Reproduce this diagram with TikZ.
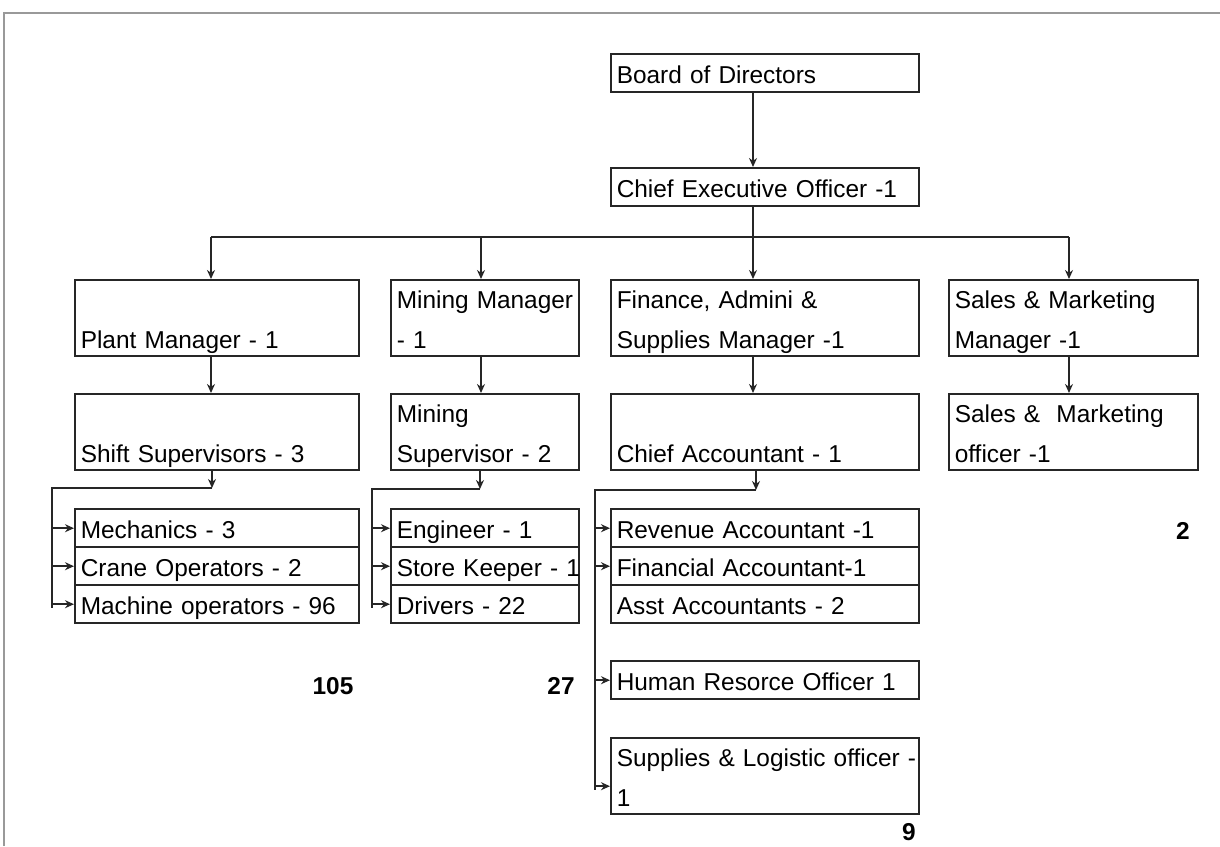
\documentclass[tikz,border=0pt]{standalone}
\usepackage{fontspec}
\setmainfont{Liberation Sans}
\usetikzlibrary{arrows.meta,calc}
\begin{document}
\begin{tikzpicture}[x=0.5pt,y=-0.5pt,
  box/.style={draw=black!85, line width=1.2pt, inner xsep=2.8pt, inner ysep=0pt, anchor=north west,
              align=left, font=\fontsize{12.2}{20}\selectfont},
  sbox/.style={box, text height=14.6pt, text depth=4.4pt},
  dbox/.style={box, text height=14pt, text depth=24pt},
  wA/.style={text width=148.4pt},
  wP/.style={text width=136.4pt},
  wM/.style={text width=88.4pt},
  wS/.style={text width=118.9pt},
  conn/.style={line width=1.2pt, draw=black!85, -{Stealth[length=4.5pt,width=4pt]}},
  wire/.style={line width=1.2pt, draw=black!85},
  frame/.style={line width=1.4pt, draw=black!40},
  num/.style={font=\fontsize{12.2}{14}\selectfont\bfseries, inner sep=0pt}
]
\useasboundingbox (0,0) rectangle (1220,846);
% page frame
\draw[frame] (4,846) -- (4,13) -- (1220,13);

% boxes
\node[sbox,wA] (bod) at (610,53) {Board of Directors};
\node[sbox,wA] (ceo) at (610,167) {Chief Executive Officer -1};

\node[dbox,wP] (pm) at (74,279) {\mbox{}\\Plant Manager - 1};
\node[dbox,wM] (mm) at (390,279) {\mbox{Mining Manager}\\- 1};
\node[dbox,wA] (fm) at (610,279) {Finance, Admini \&\\Supplies Manager -1};
\node[dbox,wS] (sm) at (948,279) {Sales \& Marketing\\Manager -1};

\node[dbox,wP] (ss) at (74,393) {\mbox{}\\Shift Supervisors - 3};
\node[dbox,wM] (ms) at (390,393) {Mining\\Supervisor - 2};
\node[dbox,wA] (ca) at (610,393) {\mbox{}\\Chief Accountant - 1};
\node[dbox,wS] (so) at (948,393) {Sales \&\ \ Marketing\\officer -1};

\node[sbox,wP] (me) at (74,508) {Mechanics - 3};
\node[sbox,wP] (co) at (74,546) {Crane Operators - 2};
\node[sbox,wP] (mo) at (74,584) {Machine operators - 96};

\node[sbox,wM] (en) at (390,508) {Engineer - 1};
\node[sbox,wM] (sk) at (390,546) {\mbox{Store Keeper - 1}};
\node[sbox,wM] (dr) at (390,584) {Drivers - 22};

\node[sbox,wA] (ra) at (610,508) {Revenue Accountant -1};
\node[sbox,wA] (fa) at (610,546) {Financial Accountant-1};
\node[sbox,wA] (aa) at (610,584) {Asst Accountants - 2};

\node[sbox,wA] (hr) at (610,660) {Human Resorce Officer 1};
\node[dbox,wA] (sl) at (610,737) {\mbox{Supplies \& Logistic officer -}\\1};

% totals
\node[num] (n105) at (333,686) {105};
\node[num] (n27) at (561,686) {27};
\node[num] (n2) at (1183,531) {2};
\node[num] (n9) at (909,832) {9};

% column coordinates
\coordinate (cP) at (211,0);
\coordinate (cM) at (481,0);
\coordinate (cF) at (753,0);
\coordinate (cS) at (1069,0);
\coordinate (busL) at (211,237);
\coordinate (busR) at (1069,237);

% top connectors
\draw[conn] (bod.south -| cF) -- (ceo.north -| cF);
\draw[conn] (ceo.south -| cF) -- (fm.north -| cF);
\draw[wire] (busL) -- (busR);
\draw[conn] (busL) -- (pm.north -| cP);
\draw[conn] (busL -| cM) -- (mm.north -| cM);
\draw[conn] (busR) -- (sm.north -| cS);

% second level
\draw[conn] (pm.south -| cP) -- (ss.north -| cP);
\draw[conn] (mm.south -| cM) -- (ms.north -| cM);
\draw[conn] (fm.south -| cF) -- (ca.north -| cF);
\draw[conn] (sm.south -| cS) -- (so.north -| cS);

% plant bracket
\coordinate (jP) at (212,488);
\coordinate (vP) at (52,488);
\draw[conn] (ss.south -| jP) -- (jP);
\draw[wire] (jP) -- (vP) -- ([yshift=-2pt]vP |- mo.west);
\draw[conn] (vP |- me.west) -- (me.west);
\draw[conn] (vP |- co.west) -- (co.west);
\draw[conn] (vP |- mo.west) -- (mo.west);

% mining bracket
\coordinate (jM) at (480,489);
\coordinate (vM) at (372,489);
\draw[conn] (ms.south -| jM) -- (jM);
\draw[wire] (jM) -- (vM) -- ([yshift=-2pt]vM |- dr.west);
\draw[conn] (vM |- en.west) -- (en.west);
\draw[conn] (vM |- sk.west) -- (sk.west);
\draw[conn] (vM |- dr.west) -- (dr.west);

% finance bracket
\coordinate (jF) at (756,490);
\coordinate (vF) at (595,490);
\coordinate (slIn) at ($(sl.west)+(0,10)$);
\draw[conn] (ca.south -| jF) -- (jF);
\draw[wire] (jF) -- (vF) -- ([yshift=-2pt]vF |- slIn);
\draw[conn] (vF |- ra.west) -- (ra.west);
\draw[conn] (vF |- fa.west) -- (fa.west);
\draw[conn] (vF |- hr.west) -- (hr.west);
\draw[conn] (vF |- slIn) -- (slIn);
\end{tikzpicture}
\end{document}
